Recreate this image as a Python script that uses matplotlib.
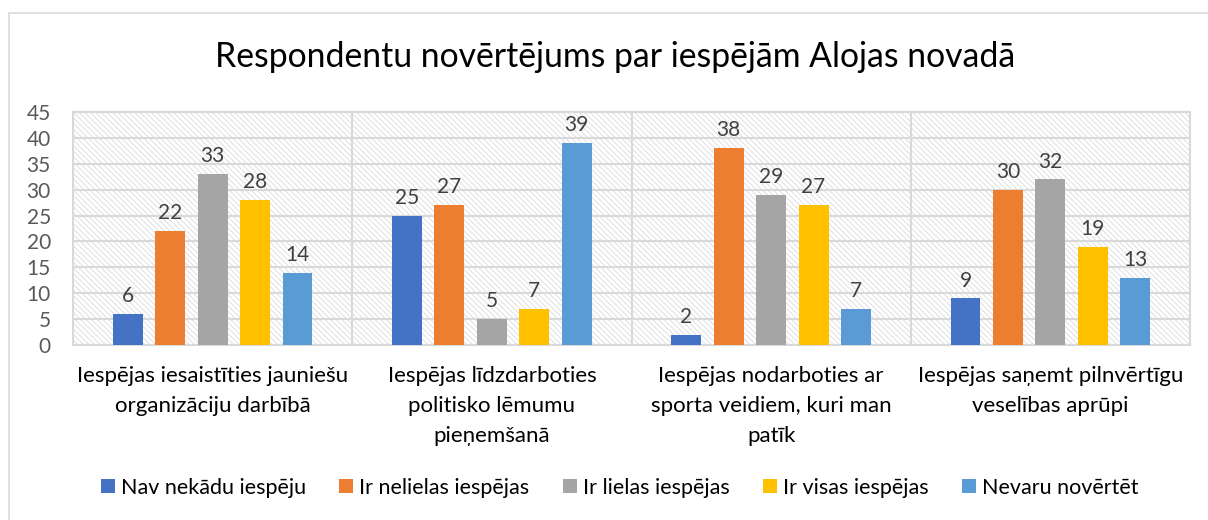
import numpy as np
import matplotlib
matplotlib.use("Agg")
import matplotlib.pyplot as plt
from matplotlib.patches import Rectangle

plt.rcParams['font.family'] = ['Lato', 'DejaVu Sans']
plt.rcParams['hatch.linewidth'] = 0.6

# Data
categories = [
    "Iespējas iesaistīties jauniešu\norganizāciju darbībā",
    "Iespējas līdzdarboties\npolitisko lēmumu\npieņemšanā",
    "Iespējas nodarboties ar\nsporta veidiem, kuri man\npatīk",
    "Iespējas saņemt pilnvērtīgu\nveselības aprūpi",
]
series_names = ["Nav nekādu iespēju", "Ir nelielas iespējas", "Ir lielas iespējas",
                "Ir visas iespējas", "Nevaru novērtēt"]
nav_nekadu = [6, 25, 2, 9]
ir_nelielas = [22, 27, 38, 30]
ir_lielas = [33, 5, 29, 32]
ir_visas = [28, 7, 27, 19]
nevaru = [14, 39, 7, 13]
y_ticks = [0, 5, 10, 15, 20, 25, 30, 35, 40, 45]

colors = ["#4472C4", "#ED7D31", "#A5A5A5", "#FFC000", "#5B9BD5"]
grid_col = "#d9d9d9"

fig = plt.figure(figsize=(12.08, 5.2), dpi=100)
# outer chart border
fig.patches.append(Rectangle((9 / 1208, -0.1), 1.2, (520 - 13) / 520 + 0.1,
                             transform=fig.transFigure, fill=False,
                             edgecolor="#d9d9d9", linewidth=1.2))

ax = fig.add_axes([73 / 1208, 1 - 345 / 520, (1190 - 73) / 1208, (345 - 112) / 520])
ax.patch.set_hatch("\\\\\\\\\\\\")
ax.patch.set_edgecolor("#dadada")
ax.patch.set_linewidth(0)

x = np.arange(len(categories))
width = 0.107
step = 0.152
all_series = [nav_nekadu, ir_nelielas, ir_lielas, ir_visas, nevaru]
for i, (vals, name, c) in enumerate(zip(all_series, series_names, colors)):
    pos = x + (i - 2) * step
    bars = ax.bar(pos, vals, width, color=c, label=name, zorder=3)
    for b, v in zip(bars, vals):
        ax.text(b.get_x() + b.get_width() / 2, v + 1.5, str(v), ha="center", va="bottom",
                fontsize=15, color="#404040", zorder=4)

ax.set_xlim(-0.5, len(categories) - 0.5)
ax.set_ylim(0, 45)
ax.set_yticks(y_ticks)
ax.set_yticklabels([str(t) for t in y_ticks])
ax.set_xticks(x)
ax.set_xticklabels(categories, fontsize=16, color="#000000", linespacing=1.62, va="top")
ax.tick_params(axis="y", labelsize=15, labelcolor="#595959", length=0, pad=16)
ax.tick_params(axis="x", length=0, pad=15)

ax.set_axisbelow(True)
ax.yaxis.grid(True, color=grid_col, linewidth=1.5)
for sep in [0.5, 1.5, 2.5]:
    ax.axvline(sep, color=grid_col, linewidth=1.5, zorder=1)
for s in ax.spines.values():
    s.set_color(grid_col)
    s.set_linewidth(1.5)

fig.text(0.509, 0.89, "Respondentu novērtējums par iespējām Alojas novadā",
         ha="center", va="center", fontsize=24.3, color="#000000")

fig.legend(loc="center", bbox_to_anchor=(0.513, 0.062), ncol=5, frameon=False,
           fontsize=15.5, handlelength=0.65, handleheight=0.65, handletextpad=0.28,
           columnspacing=1.55)

fig.savefig("out.png", dpi=100)
